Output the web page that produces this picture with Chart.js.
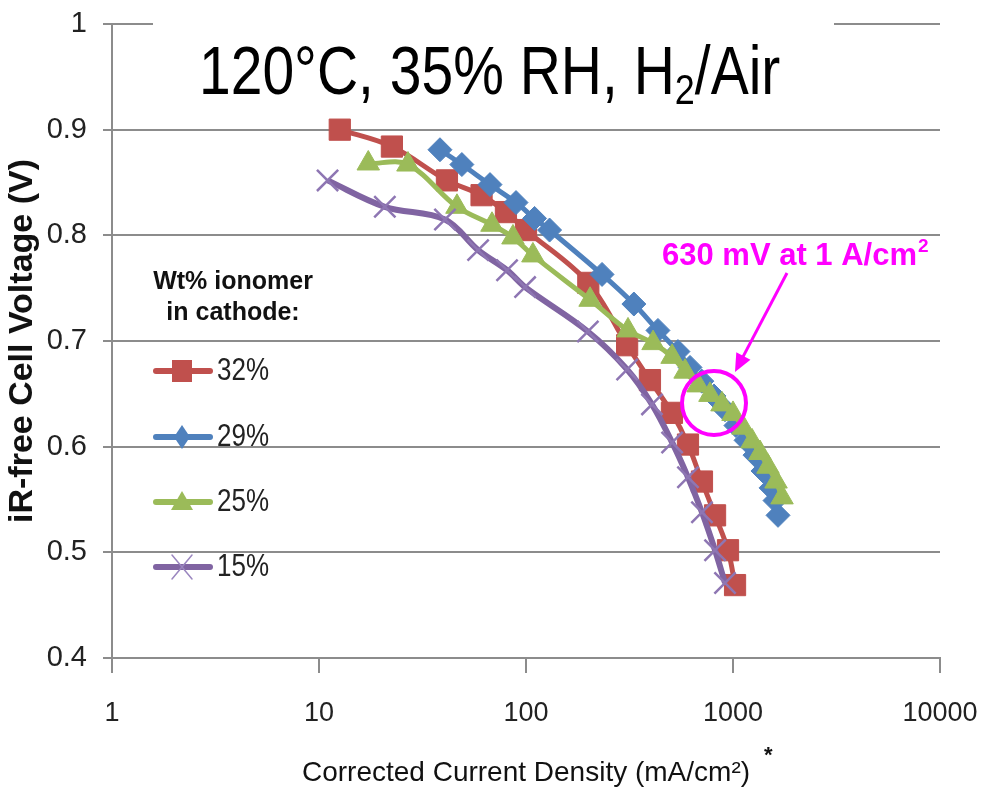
<!DOCTYPE html>
<html>
<head>
<meta charset="utf-8">
<title>iR-free cell voltage vs corrected current density</title>
<script src="https://cdn.jsdelivr.net/npm/chart.js@4.4.1/dist/chart.umd.min.js"></script>
<style>
  html, body { margin: 0; padding: 0; background: #fff; }
  #wrap { width: 982px; height: 792px; }
</style>
</head>
<body>
<div id="wrap"><canvas id="chart" width="982" height="792"></canvas></div>
<script>
// --- Data ---
const xTicks = [1, 10, 100, 1000, 10000];
const yTicks = [0.4, 0.5, 0.6, 0.7, 0.8, 0.9, 1];

const seriesLabels = ['32%', '29%', '25%', '15%'];

const red32X = [12.6, 22.5, 41.5, 61, 80, 100, 200, 308, 397, 507, 606, 708, 819, 946, 1023];
const red32Y = [0.900, 0.884, 0.852, 0.838, 0.822, 0.805, 0.755, 0.696, 0.663, 0.632, 0.602, 0.567, 0.535, 0.502, 0.469];

const blue29X = [38.4, 49, 67, 89.5, 110, 130, 233, 332, 434, 542, 620, 707, 809, 915, 1033, 1156, 1277, 1396, 1527, 1596, 1650];
const blue29Y = [0.881, 0.867, 0.848, 0.831, 0.816, 0.805, 0.763, 0.735, 0.710, 0.690, 0.675, 0.662, 0.648, 0.635, 0.620, 0.606, 0.592, 0.577, 0.561, 0.549, 0.535];

const green25X = [17.3, 26.9, 46.4, 68.5, 86.5, 108, 204, 311, 411, 508, 587, 678, 774, 885, 1000, 1118, 1236, 1350, 1476, 1614, 1725];
const green25Y = [0.868, 0.867, 0.827, 0.810, 0.798, 0.781, 0.739, 0.710, 0.698, 0.685, 0.671, 0.658, 0.649, 0.640, 0.631, 0.618, 0.605, 0.594, 0.581, 0.567, 0.552];

const purple15X = [11.0, 20.8, 40.6, 58.7, 81, 99, 199, 308, 406, 508, 606, 708, 819, 915];
const purple15Y = [0.852, 0.827, 0.815, 0.786, 0.767, 0.751, 0.709, 0.673, 0.640, 0.604, 0.571, 0.538, 0.502, 0.471];

// --- Style ---
const FONT = '"Liberation Sans", Arial, sans-serif';
const GRID = '#8c8c8c';
const RED = '#c0504d';
const BLUE = '#4f81bd';
const GREEN = '#9bbb59';
const PURPLE = '#8064a2';
const MAGENTA = '#ff00ff';
const X_TITLE = 'Corrected Current Density (mA/cm²)';
const X_TITLE_SIZE = 28;

function pts(xs, ys) {
  return xs.map((x, i) => ({ x, y: ys[i] }));
}

function series(label, xs, ys, color, style, radius, order, extra = {}) {
  return {
    label,
    data: pts(xs, ys),
    showLine: true,
    borderColor: color,
    backgroundColor: color,
    borderWidth: 5,
    tension: 0.35,
    pointStyle: style,
    pointRadius: radius,
    pointBackgroundColor: color,
    pointBorderColor: color,
    pointBorderWidth: 1,
    order,
    ...extra,
  };
}

// keep tick labels from pushing the plot area inward
function noPad(s) {
  s.paddingLeft = 0;
  s.paddingRight = 0;
  s.paddingTop = 0;
  s.paddingBottom = 0;
}

// --- Overlay: title, annotation, in-plot legend ---
function drawMarker(ctx, style, x, y, color) {
  ctx.save();
  ctx.fillStyle = color;
  ctx.strokeStyle = color;
  ctx.beginPath();
  if (style === 'rect') {
    ctx.rect(x - 10, y - 11, 20, 22);
    ctx.fill();
  } else if (style === 'rectRot') {
    ctx.moveTo(x, y - 12); ctx.lineTo(x + 8, y); ctx.lineTo(x, y + 12); ctx.lineTo(x - 8, y);
    ctx.closePath();
    ctx.fill();
  } else if (style === 'triangle') {
    ctx.moveTo(x, y - 11); ctx.lineTo(x + 11, y + 8); ctx.lineTo(x - 11, y + 8);
    ctx.closePath();
    ctx.fill();
  } else {
    ctx.strokeStyle = '#9a86bf';
    ctx.lineWidth = 1.5;
    ctx.moveTo(x - 10, y - 12); ctx.lineTo(x + 10, y + 12);
    ctx.moveTo(x + 10, y - 12); ctx.lineTo(x - 10, y + 12);
    ctx.stroke();
  }
  ctx.restore();
}

const overlay = {
  id: 'overlay',
  afterDraw(chart) {
    const ctx = chart.ctx;
    const area = chart.chartArea;
    ctx.save();

    // white box behind the title hides part of the top grid line
    ctx.fillStyle = '#fff';
    ctx.fillRect(153, 16, 681, 16);

    // title, condensed look via vertical stretch
    ctx.fillStyle = '#000';
    ctx.textBaseline = 'alphabetic';
    ctx.save();
    ctx.translate(199, 94);
    ctx.scale(1, 1.2);
    ctx.font = '57px ' + FONT;
    const t1 = '120°C, 35% RH, H';
    ctx.fillText(t1, 0, 0);
    let w = ctx.measureText(t1).width;
    ctx.font = '36px ' + FONT;
    ctx.fillText('2', w, 8);
    w += ctx.measureText('2').width;
    ctx.font = '57px ' + FONT;
    ctx.fillText('/Air', w, 0);
    ctx.restore();

    // annotation
    ctx.fillStyle = MAGENTA;
    ctx.font = 'bold 31px ' + FONT;
    const a1 = '630 mV at 1 A/cm';
    ctx.fillText(a1, 662, 265);
    const aw = ctx.measureText(a1).width;
    ctx.font = 'bold 19px ' + FONT;
    ctx.fillText('2', 662 + aw + 1, 252);

    // arrow
    const x0 = 787, y0 = 273, x1 = 735, y1 = 372;
    const ang = Math.atan2(y1 - y0, x1 - x0);
    ctx.strokeStyle = MAGENTA;
    ctx.lineWidth = 3;
    ctx.beginPath();
    ctx.moveTo(x0, y0);
    ctx.lineTo(x1 - 14 * Math.cos(ang), y1 - 14 * Math.sin(ang));
    ctx.stroke();
    ctx.beginPath();
    ctx.moveTo(x1, y1);
    ctx.lineTo(x1 - 18 * Math.cos(ang) + 8 * Math.sin(ang), y1 - 18 * Math.sin(ang) - 8 * Math.cos(ang));
    ctx.lineTo(x1 - 18 * Math.cos(ang) - 8 * Math.sin(ang), y1 - 18 * Math.sin(ang) + 8 * Math.cos(ang));
    ctx.closePath();
    ctx.fillStyle = MAGENTA;
    ctx.fill();

    // circle around the 1 A/cm2 point
    ctx.lineWidth = 4;
    ctx.beginPath();
    ctx.ellipse(714, 403, 32, 32, 0, 0, Math.PI * 2);
    ctx.stroke();

    // legend title
    ctx.fillStyle = '#111';
    ctx.font = 'bold 25px ' + FONT;
    ctx.textAlign = 'center';
    ctx.fillText('Wt% ionomer', 233, 289);
    ctx.fillText('in cathode:', 233, 320);

    // legend items
    const items = [
      [seriesLabels[0], RED, 'rect', 371],
      [seriesLabels[1], BLUE, 'rectRot', 437],
      [seriesLabels[2], GREEN, 'triangle', 502],
      [seriesLabels[3], PURPLE, 'crossRot', 567],
    ];
    ctx.textAlign = 'left';
    items.forEach(([label, color, style, y]) => {
      ctx.strokeStyle = color;
      ctx.lineWidth = 6;
      ctx.lineCap = 'round';
      ctx.beginPath();
      ctx.moveTo(156, y);
      ctx.lineTo(210, y);
      ctx.stroke();
      drawMarker(ctx, style, 182, y, color);
      ctx.save();
      ctx.translate(217, y + 9);
      ctx.scale(1, 1.2);
      ctx.fillStyle = '#222';
      ctx.font = '26px ' + FONT;
      ctx.fillText(label, 0, 0);
      ctx.restore();
    });

    // superscript asterisk after the x title
    ctx.font = X_TITLE_SIZE + 'px ' + FONT;
    const tw = ctx.measureText(X_TITLE).width;
    const cx = (area.left + area.right) / 2;
    ctx.fillStyle = '#111';
    ctx.font = 'bold 22px ' + FONT;
    ctx.fillText('*', cx + tw / 2 + 14, 762);

    ctx.restore();
  },
};

// --- Chart ---
new Chart(document.getElementById('chart').getContext('2d'), {
  type: 'scatter',
  data: {
    datasets: [
      series(seriesLabels[0], red32X, red32Y, RED, 'rect', 15, 4),
      series(seriesLabels[1], blue29X, blue29Y, BLUE, 'rectRot', 12, 3),
      series(seriesLabels[2], green25X, green25Y, GREEN, 'triangle', 13, 2),
      series(seriesLabels[3], purple15X, purple15Y, PURPLE, 'crossRot', 15, 1, {
        borderWidth: 6,
        pointBorderColor: '#8e76b3',
        pointBorderWidth: 2.5,
      }),
    ],
  },
  options: {
    responsive: false,
    animation: false,
    layout: { padding: { top: 24, right: 42, left: 0, bottom: 0 } },
    plugins: {
      legend: { display: false },
      tooltip: { enabled: false },
    },
    scales: {
      x: {
        type: 'logarithmic',
        min: 1,
        max: 10000,
        afterBuildTicks: (s) => { s.ticks = xTicks.map((v) => ({ value: v })); },
        afterFit: (s) => { s.height = 134; noPad(s); },
        ticks: {
          font: { family: FONT, size: 27 },
          color: '#222',
          padding: 24,
          maxRotation: 0,
          autoSkip: false,
          callback: (v) => String(v),
        },
        grid: { drawOnChartArea: false, drawTicks: true, tickLength: 15, color: GRID, lineWidth: 2 },
        border: { display: true, color: GRID, width: 2 },
        title: {
          display: true,
          text: X_TITLE,
          font: { family: FONT, size: X_TITLE_SIZE },
          color: '#111',
          padding: { top: 0, bottom: 2 },
        },
      },
      y: {
        min: 0.4,
        max: 1,
        afterBuildTicks: (s) => { s.ticks = yTicks.map((v) => ({ value: v })); },
        afterFit: (s) => { s.width = 112; noPad(s); },
        ticks: {
          font: { family: FONT, size: 29 },
          color: '#222',
          padding: 16,
          callback: (v) => String(+Number(v).toFixed(1)),
        },
        grid: { color: GRID, lineWidth: 2, tickLength: 9 },
        border: { display: true, color: GRID, width: 2 },
        title: {
          display: true,
          text: 'iR-free Cell Voltage (V)',
          font: { family: FONT, size: 34, weight: 'bold' },
          color: '#111',
          padding: { top: 2, bottom: 0 },
        },
      },
    },
  },
  plugins: [overlay],
});
</script>
</body>
</html>
